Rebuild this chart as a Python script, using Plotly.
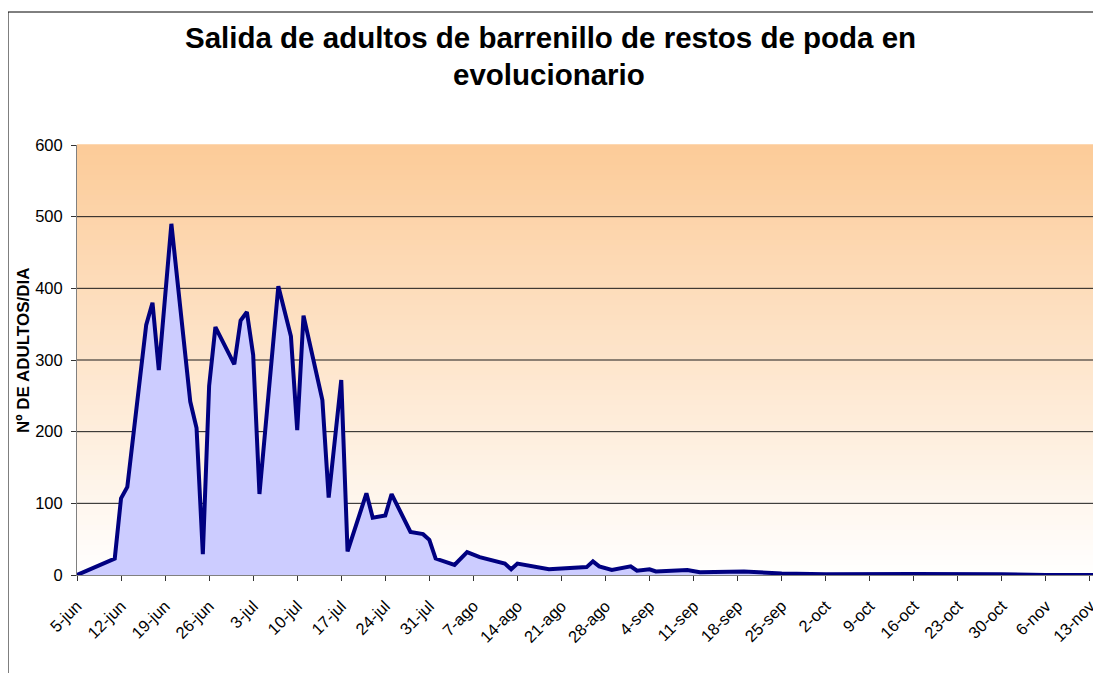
import plotly.graph_objects as go

# ---- data ----
dates = [
    "2005-06-05", "2005-06-11", "2005-06-12", "2005-06-13", "2005-06-16", "2005-06-17",
    "2005-06-18", "2005-06-20", "2005-06-23", "2005-06-24", "2005-06-25", "2005-06-26",
    "2005-06-27", "2005-06-30", "2005-07-01", "2005-07-02", "2005-07-03", "2005-07-04",
    "2005-07-07", "2005-07-09", "2005-07-10", "2005-07-11", "2005-07-14", "2005-07-15",
    "2005-07-17", "2005-07-18", "2005-07-21", "2005-07-22", "2005-07-24", "2005-07-25",
    "2005-07-28", "2005-07-30", "2005-07-31", "2005-08-01", "2005-08-04", "2005-08-06",
    "2005-08-08", "2005-08-12", "2005-08-13", "2005-08-14", "2005-08-19", "2005-08-25",
    "2005-08-26", "2005-08-27", "2005-08-29", "2005-09-01", "2005-09-02", "2005-09-04",
    "2005-09-05", "2005-09-10", "2005-09-12", "2005-09-19", "2005-09-25", "2005-10-02",
    "2005-10-16", "2005-10-23", "2005-10-30", "2005-11-06", "2005-11-14",
]
adultos = [
    0, 23, 107, 123, 349, 380,
    286, 490, 242, 205, 29, 264,
    346, 294, 355, 367, 307, 113,
    403, 333, 202, 362, 244, 108,
    272, 33, 114, 80, 83, 113,
    60, 57, 49, 23, 14, 32,
    25, 16, 8, 16, 8, 11,
    19, 12, 7, 12, 6, 8,
    5, 7, 4, 5, 2, 1,
    1.5, 1.5, 1, 0, 0,
]

tick_dates = [
    "2005-06-05", "2005-06-12", "2005-06-19", "2005-06-26", "2005-07-03", "2005-07-10",
    "2005-07-17", "2005-07-24", "2005-07-31", "2005-08-07", "2005-08-14", "2005-08-21",
    "2005-08-28", "2005-09-04", "2005-09-11", "2005-09-18", "2005-09-25", "2005-10-02",
    "2005-10-09", "2005-10-16", "2005-10-23", "2005-10-30", "2005-11-06", "2005-11-13",
]
tick_labels = [
    "5-jun", "12-jun", "19-jun", "26-jun", "3-jul", "10-jul",
    "17-jul", "24-jul", "31-jul", "7-ago", "14-ago", "21-ago",
    "28-ago", "4-sep", "11-sep", "18-sep", "25-sep", "2-oct",
    "9-oct", "16-oct", "23-oct", "30-oct", "6-nov", "13-nov",
]
y_ticks = [0, 100, 200, 300, 400, 500, 600]
grid_vals = [100, 200, 300, 400, 500]

title_line1 = "Salida de adultos de barrenillo de restos de poda en"
title_line2 = "evolucionario"
y_title = "Nº DE ADULTOS/DIA"

FONT = "Liberation Sans, Arial, sans-serif"

# page body has an 8px margin; compensate so the plot lands where the reference has it
L, T, PW, PH = 69, 137, 1024, 430
BOTTOM = T + PH  # 567 in figure px


def py(fig_y):
    return (BOTTOM - fig_y) / PH


def px(fig_x):
    return (fig_x - L) / PW


fig = go.Figure()
fig.add_trace(go.Scatter(
    x=dates, y=adultos, mode="lines",
    line=dict(color="#000080", width=4),
    fill="tozeroy", fillcolor="#CCCCFF",
    hoverinfo="x+y", showlegend=False,
))

# gradient background bands (orange at top -> white at bottom)
n = 86
top = (252, 203, 152)
shapes = []
for i in range(n):
    t = (i + 0.5) / n  # 0 bottom -> 1 top
    r = round(255 + (top[0] - 255) * t)
    g = round(255 + (top[1] - 255) * t)
    b = round(255 + (top[2] - 255) * t)
    shapes.append(dict(type="rect", xref="paper", yref="paper",
                       x0=0, x1=1, y0=i / n, y1=(i + 1) / n + 0.002,
                       fillcolor=f"rgb({r},{g},{b})", line=dict(width=0),
                       layer="below"))
# horizontal gridlines (none at the top edge, as in the reference)
for gv in grid_vals:
    shapes.append(dict(type="line", xref="paper", yref="y", x0=0, x1=1, y0=gv, y1=gv,
                       line=dict(color="#1a1a1a", width=1), layer="below"))
# chart border (extends beyond the visible crop)
shapes.append(dict(type="rect", xref="paper", yref="paper",
                   x0=px(0), x1=1.2, y0=-0.6, y1=py(4),
                   line=dict(color="black", width=1), fillcolor="rgba(0,0,0,0)",
                   layer="above"))

annotations = [
    dict(text="<b>" + title_line1 + "</b>", xref="paper", yref="paper",
         x=px(542), y=py(29), showarrow=False, xanchor="center", yanchor="middle",
         font=dict(size=29.5, family=FONT, color="black")),
    dict(text="<b>" + title_line2 + "</b>", xref="paper", yref="paper",
         x=px(541), y=py(67), showarrow=False, xanchor="center", yanchor="middle",
         font=dict(size=29.5, family=FONT, color="black")),
    dict(text="<b>" + y_title + "</b>", xref="paper", yref="paper",
         x=px(15), y=py(342), textangle=-90,
         showarrow=False, xanchor="center", yanchor="middle",
         font=dict(size=17, family=FONT, color="black")),
]

fig.update_layout(
    width=1101, height=673,
    margin=dict(l=L, r=1101 - L - PW, t=T, b=673 - BOTTOM),
    paper_bgcolor="white", plot_bgcolor="white",
    font=dict(family=FONT, color="black", size=16.5),
    shapes=shapes,
    annotations=annotations,
)

fig.update_xaxes(
    type="date",
    range=["2005-06-05", "2005-11-14 18:00"],
    tickmode="array", tickvals=tick_dates, ticktext=tick_labels,
    tickangle=-45, ticks="outside", ticklen=5, tickcolor="#333333",
    ticklabelstandoff=9,
    showline=True, linecolor="#808080", linewidth=1,
    showgrid=False, zeroline=False,
    tickfont=dict(size=16.5, family=FONT, color="black"),
)
fig.update_yaxes(
    range=[0, 600], tickmode="array", tickvals=y_ticks,
    ticks="outside", ticklen=5, tickcolor="#333333",
    ticklabelstandoff=5,
    showline=True, linecolor="#808080", linewidth=1,
    showgrid=False, zeroline=False,
    tickfont=dict(size=16.5, family=FONT, color="black"),
)

fig.write_html("out.html")
